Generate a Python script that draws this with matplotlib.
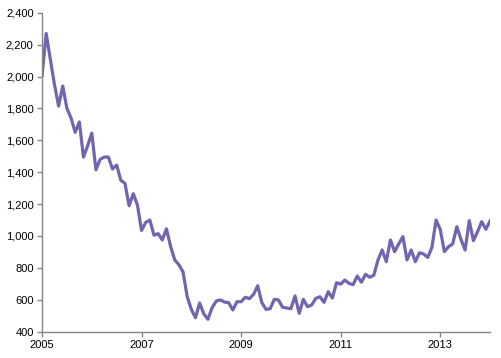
import matplotlib
matplotlib.use("Agg")
import matplotlib.pyplot as plt
import numpy as np

start_year = 2005
values = [
    2000, 2270, 2110, 1950, 1815, 1940, 1800, 1740, 1650, 1715, 1495, 1565,
    1645, 1415, 1480, 1495, 1495, 1420, 1445, 1350, 1330, 1190, 1265, 1195,
    1035, 1085, 1100, 1005, 1015, 975, 1045, 935, 850, 820, 775, 620,
    540, 488, 580, 512, 478, 550, 592, 599, 586, 582, 536, 588,
    588, 616, 607, 634, 688, 582, 540, 544, 603, 599, 553, 549,
    544, 624, 515, 603, 557, 567, 609, 619, 584, 651, 611, 707,
    698, 724, 703, 695, 749, 710, 760, 741, 754, 850, 912, 839,
    975, 902, 950, 996, 850, 912, 839, 895, 887, 866, 929, 1100,
    1042, 902, 933, 950, 1058, 979, 912, 1096, 971, 1027, 1090, 1042,
    1094,
]
x_ticks = [2005, 2007, 2009, 2011, 2013]
y_ticks = [400, 600, 800, 1000, 1200, 1400, 1600, 1800, 2000, 2200, 2400]

plt.rcParams['font.family'] = ['Liberation Sans', 'DejaVu Sans']

fig = plt.figure(figsize=(5.02, 3.58), dpi=100)
ax = fig.add_axes([42/502, 1-331.7/358, (490-42)/502, (331.7-12.7)/358])

x = start_year + np.arange(len(values)) / 12.0
ax.plot(x, values, color='#7264AE', linewidth=2.3, solid_joinstyle='round')

ax.set_xlim(2005, 2014)
ax.set_ylim(400, 2400)
ax.set_xticks(x_ticks)
ax.set_xticklabels([str(t) for t in x_ticks])
ax.set_yticks(y_ticks)
ax.set_yticklabels([f"{v:,}" for v in y_ticks])

for s in ['top', 'right']:
    ax.spines[s].set_visible(False)
for s in ['left', 'bottom']:
    ax.spines[s].set_color('#868686')
    ax.spines[s].set_linewidth(1.0)
ax.tick_params(axis='both', direction='out', length=3.5, width=1.0,
               color='#868686', labelsize=8, labelcolor='black', pad=2.5)

fig.savefig('out.png', dpi=100)
